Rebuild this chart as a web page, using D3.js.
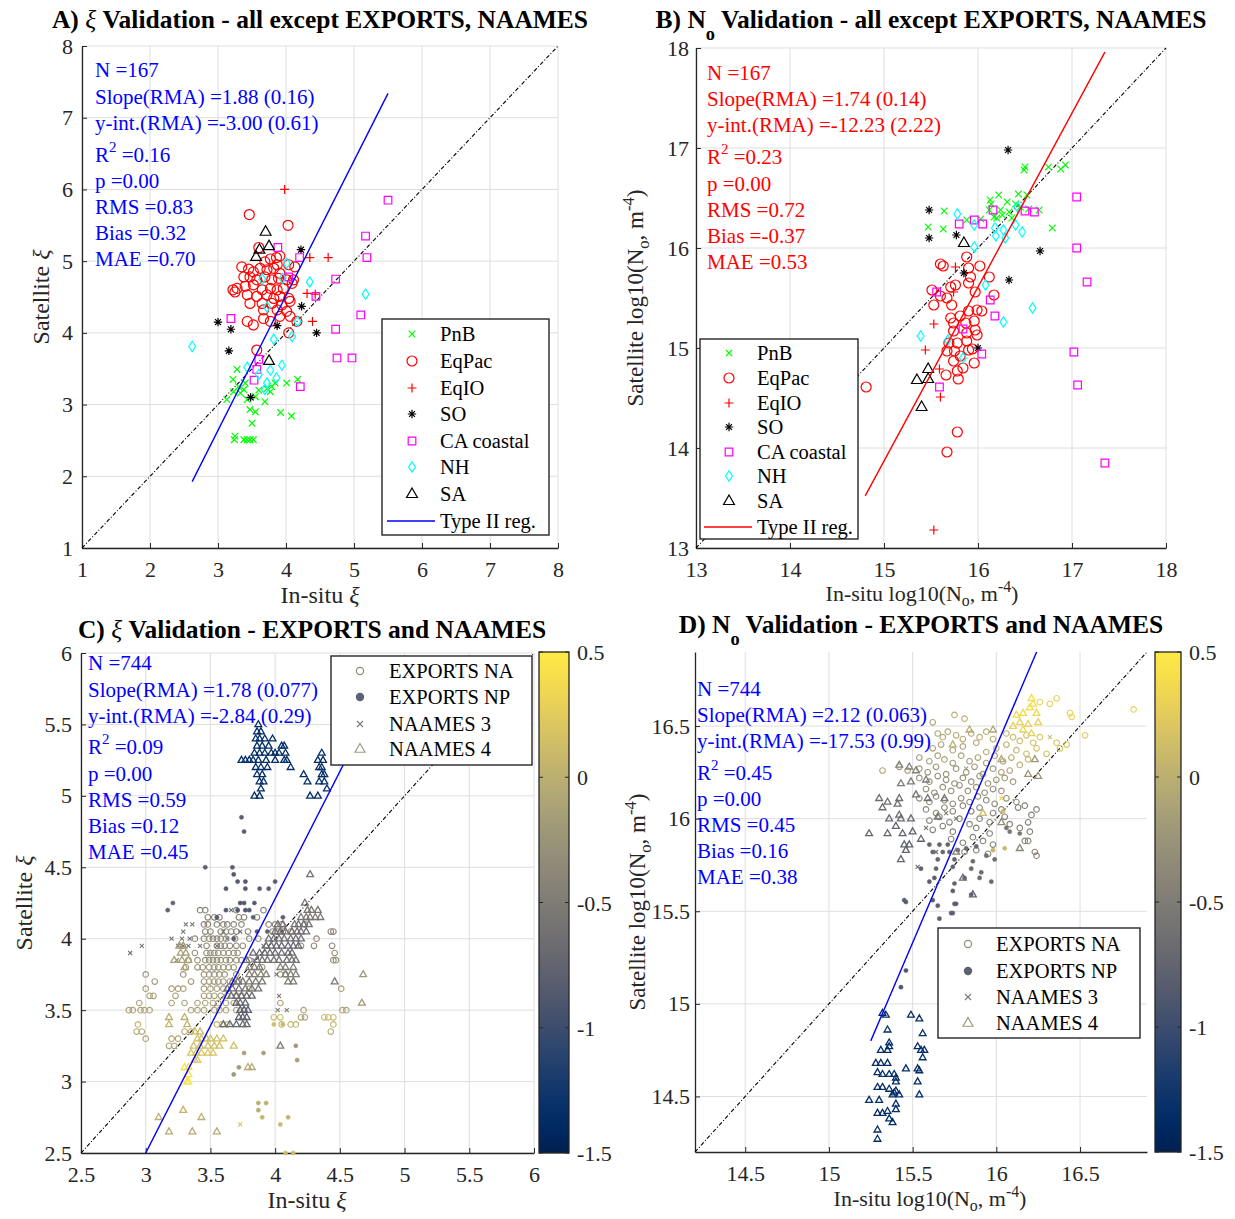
<!DOCTYPE html>
<html lang="en">
<head>
<meta charset="UTF-8">
<title>Validation</title>
<script src="https://cdn.jsdelivr.net/npm/d3@7"></script>
<style>
  body { margin: 0; background: #fff; }
  svg { font-family: "Liberation Serif", "DejaVu Serif", serif; }
  .tick-label { font-size: 22px; }
  .stat { font-size: 21px; }
  .legend-text { font-size: 20.5px; fill: #000; }
</style>
</head>
<body>
<svg width="1235" height="1219"></svg>
<script>
// ---------- panel A: xi, all except EXPORTS / NAAMES ----------
var aPnB = [[3.28,3.49],[3.22,3.35],[3.40,3.30],[3.23,3.18],[3.33,3.16],[3.13,3.07],[3.43,3.07],[3.55,3.11],[3.77,3.18],[3.84,3.30],[4.01,3.30],[4.17,3.35],[3.47,2.93],[3.55,2.90],[3.50,2.74],[3.92,2.89],[4.08,2.84],[3.25,2.56],[3.24,2.51],[3.38,2.51],[3.43,2.51],[3.47,2.51],[3.52,2.51],[3.79,3.25],[3.38,3.21],[3.69,3.04],[3.30,3.25],[3.60,3.20],[3.72,3.22]];
var aEqPac = [[3.46,5.65],[4.03,5.50],[3.60,5.19],[3.86,5.05],[3.91,5.07],[3.77,5.03],[4.04,4.95],[4.13,4.92],[3.35,4.92],[3.45,4.89],[3.52,4.85],[3.62,4.90],[3.72,4.88],[3.82,4.90],[3.91,4.83],[3.38,4.78],[3.47,4.78],[3.57,4.74],[3.69,4.78],[3.79,4.74],[3.89,4.76],[4.01,4.74],[4.09,4.69],[3.28,4.62],[3.40,4.65],[3.52,4.67],[3.65,4.60],[3.77,4.62],[3.87,4.60],[3.96,4.62],[3.43,4.53],[3.57,4.51],[3.72,4.53],[3.82,4.48],[3.91,4.51],[4.04,4.48],[3.47,4.41],[3.65,4.41],[3.79,4.41],[3.94,4.39],[4.06,4.44],[3.67,4.32],[3.87,4.32],[4.01,4.30],[3.43,4.16],[3.52,4.11],[3.67,4.20],[3.77,4.16],[3.91,4.23],[4.06,4.23],[4.16,4.16],[4.04,4.00],[3.57,3.76],[4.11,4.74],[3.87,4.95],[3.69,4.99],[3.22,4.60],[3.25,4.57]];
var aEqIO = [[3.98,6.00],[4.35,5.05],[4.62,5.05],[4.31,4.55],[4.43,4.54],[4.39,4.16]];
var aSO = [[4.22,5.16],[4.23,4.37],[3.00,4.15],[3.19,4.05],[3.16,3.75],[3.87,4.10],[4.45,4.00],[3.48,3.10]];
var aCA = [[3.88,5.19],[4.20,5.05],[5.17,5.35],[5.19,5.05],[4.04,4.78],[4.44,4.51],[4.73,4.75],[5.10,4.25],[3.19,4.20],[4.73,4.05],[4.75,3.65],[4.97,3.65],[3.57,3.49],[3.53,3.34],[4.21,3.25],[5.50,5.85],[3.60,3.63]];
var aNH = [[2.62,3.81],[4.01,4.97],[3.65,4.75],[3.95,4.76],[4.35,4.71],[5.17,4.54],[3.72,4.36],[4.17,4.16],[4.09,3.95],[3.82,3.91],[3.94,3.55],[3.43,3.52],[3.77,3.48],[3.60,3.42],[3.69,3.21],[3.86,3.37],[3.72,3.30]];
var aSA = [[3.70,5.41],[3.75,5.21],[3.61,5.16],[3.56,5.06],[3.75,3.61]];
var fitA = [1.88, -3.00, 2.62, 5.50];
var statsA = ["N =167", "Slope(RMA) =1.88 (0.16)", "y-int.(RMA) =-3.00 (0.61)", "R2 =0.16", "p =0.00", "RMS =0.83", "Bias =0.32", "MAE =0.70"];

// ---------- panel B: log10 No, all except EXPORTS / NAAMES ----------
var bPnB = [[16.50,16.81],[16.49,16.78],[16.75,16.81],[16.88,16.79],[16.93,16.83],[15.64,16.37],[15.47,16.21],[15.63,16.19],[16.79,16.20],[16.13,16.48],[16.22,16.53],[16.31,16.46],[16.43,16.54],[16.52,16.53],[16.12,16.38],[16.24,16.38],[16.33,16.36],[16.45,16.41],[16.54,16.39],[16.65,16.38],[16.17,16.31],[16.26,16.33],[15.88,16.28],[16.03,16.29],[16.40,16.44],[16.14,16.44],[16.20,16.30],[16.36,16.30]];
var bEqPac = [[15.60,15.84],[15.63,15.82],[15.88,15.91],[16.02,15.82],[16.12,15.71],[15.90,15.80],[15.92,15.71],[15.90,15.65],[15.76,15.63],[15.71,15.61],[15.51,15.58],[16.17,15.53],[15.97,15.56],[15.60,15.52],[15.67,15.50],[15.53,15.43],[15.72,15.43],[15.81,15.32],[15.90,15.37],[15.99,15.38],[16.04,15.37],[15.71,15.30],[15.74,15.25],[15.87,15.25],[15.96,15.27],[15.97,15.18],[15.74,15.17],[15.88,15.15],[15.99,15.13],[15.69,15.05],[15.78,15.05],[15.88,15.07],[15.67,14.97],[15.75,14.97],[15.81,14.92],[15.90,14.98],[15.96,14.85],[15.74,14.87],[15.84,14.80],[15.78,14.77],[15.66,14.73],[15.79,14.69],[15.94,14.99],[14.81,14.61],[15.78,14.16],[15.67,13.96]];
var bEqIO = [[15.76,15.81],[15.74,15.56],[15.53,15.24],[15.44,14.98],[15.59,14.79],[15.60,14.51],[15.53,13.18]];
var bSO = [[16.32,16.98],[15.48,16.38],[15.48,16.10],[15.77,16.13],[15.85,15.75],[16.66,15.97],[16.33,15.68],[16.00,15.00]];
var bCA = [[16.16,16.38],[15.80,16.24],[15.96,16.28],[16.05,16.24],[16.50,16.37],[16.60,16.36],[17.05,16.51],[17.05,16.00],[15.56,15.56],[16.13,15.48],[16.18,15.32],[15.84,15.19],[16.04,14.94],[17.02,14.96],[17.06,14.63],[15.59,14.61],[17.35,13.85],[17.16,15.66]];
var bNH = [[15.78,16.34],[15.96,16.23],[16.18,16.20],[16.27,16.18],[16.40,16.23],[16.47,16.16],[16.19,16.12],[16.29,16.10],[15.96,16.01],[16.08,15.63],[16.58,15.40],[16.27,15.26],[15.39,15.12],[15.68,15.08],[15.84,14.90],[16.42,16.41]];
var bSA = [[15.85,16.05],[15.47,14.79],[15.35,14.68],[15.47,14.69],[15.40,14.41]];
var fitB = [1.74, -12.23, 14.80, 17.35];
var statsB = ["N =167", "Slope(RMA) =1.74 (0.14)", "y-int.(RMA) =-12.23 (2.22)", "R2 =0.23", "p =0.00", "RMS =0.72", "Bias =-0.37", "MAE =0.53"];

// ---------- panel C: xi, EXPORTS and NAAMES (rows: [y, colour value, x list]) ----------
var cNA = [
  [4.20,-0.45,[3.42,3.46,3.70,3.91]],
  [4.15,-0.45,[3.48,3.53,3.57,3.72,3.76,3.86]],
  [4.10,-0.40,[3.45,3.48,3.55,3.60,3.63,3.68,3.74,3.95,4.00,4.05,4.23]],
  [4.05,-0.40,[3.46,3.50,3.58,3.62,3.66,3.70,3.79,3.98,4.02,4.06,4.12,4.43,4.45]],
  [4.00,-0.35,[3.38,3.45,3.49,3.52,3.55,3.58,3.62,3.69,3.80,3.87,4.32]],
  [3.95,-0.35,[3.47,3.55,3.58,3.61,3.65,3.70,3.75,4.20,4.30,4.44]],
  [3.90,-0.30,[3.38,3.47,3.50,3.53,3.56,3.60,3.64,3.68,3.71,4.46]],
  [3.85,-0.30,[3.33,3.40,3.46,3.49,3.52,3.55,3.58,3.62,3.65,3.70,3.74,3.80,4.45,4.47]],
  [3.80,-0.25,[3.31,3.40,3.44,3.49,3.53,3.56,3.60,3.64,3.68,3.90]],
  [3.75,-0.25,[3.00,3.29,3.45,3.49,3.53,3.57,3.61,3.70,4.04,4.08]],
  [3.70,-0.20,[3.07,3.35,3.45,3.49,3.53,3.56,3.60,3.65,3.72]],
  [3.65,-0.15,[3.00,3.20,3.25,3.29,3.45,3.50,3.55,3.60,3.80,4.51]],
  [3.60,-0.15,[3.03,3.06,3.23,3.45,3.49,3.53,3.58,3.63,3.70,3.74]],
  [3.55,-0.10,[2.95,3.20,3.30,3.40,3.46,3.52,3.56,3.62,3.68,4.04]],
  [3.50,-0.10,[2.87,2.90,2.96,2.99,3.03,3.35,3.40,3.45,3.53,3.57,3.62,3.70,3.76,4.22,4.52,4.55]],
  [3.45,0.10,[3.99,4.04,4.38,4.41,4.45]],
  [3.45,-0.10,[4.20,4.23]],
  [3.40,0.05,[2.94,3.55,3.59,3.63,4.05,4.12,4.16,4.45]],
  [3.35,-0.05,[2.93,2.97,3.30,3.35,4.43]],
  [3.30,-0.10,[3.00,3.20,3.25]],
  [3.25,-0.10,[3.18,3.22]]
];
var cNP = [[3.74,4.85,-0.8],[3.76,4.75,-0.8],[3.46,4.50,-0.8],[3.67,4.50,-0.8],[3.68,4.45,-0.85],[3.71,4.40,-0.85],[3.77,4.40,-0.85],[4.00,4.40,-0.8],[3.62,4.35,-0.85],[3.77,4.35,-0.85],[3.88,4.35,-0.8],[3.95,4.35,-0.8],[3.21,4.25,-0.75],[3.17,4.20,-0.75],[3.73,4.25,-0.9],[3.76,4.25,-0.9],[3.84,4.25,-0.85],[3.62,4.20,-0.85],[3.71,4.20,-0.85],[3.77,4.20,-0.85],[3.80,4.20,-0.85],[3.55,4.15,-0.85],[3.83,4.15,-0.8],[4.06,4.15,-0.8],[3.68,4.00,-0.8],[3.86,4.05,-0.8],[3.94,4.05,-0.75],
  [3.76,3.20,-0.15],[3.91,3.20,-0.15],[3.72,3.10,-0.2],[4.16,3.25,-0.2],[4.17,3.15,-0.15],[3.68,3.05,-0.2],[3.87,2.85,0.0],[3.93,2.85,0.0],[3.87,2.80,0.0],[3.90,2.75,0.05],[4.10,2.75,0.05],[4.04,2.70,0.1],[4.08,2.50,0.1],[4.14,2.50,0.1],[4.06,3.40,0.1],[3.99,3.40,0.15]];
var cN3 = [[2.88,3.90,-0.55],[2.97,3.95,-0.55],[3.20,4.00,-0.6],[3.28,4.00,-0.6],[3.34,4.00,-0.6],[3.25,3.95,-0.6],[3.29,3.95,-0.6],[3.33,3.95,-0.6],[3.42,3.95,-0.6],[3.31,4.10,-0.6],[3.36,4.10,-0.6],[3.29,4.05,-0.6],[3.24,3.85,-0.5],[3.66,4.20,-0.7],[3.63,4.00,-0.6],[3.73,4.05,-0.65],[3.84,3.85,-0.6],[3.91,3.95,-0.6],[4.01,3.75,-0.55],[4.03,3.60,-0.55],[4.02,3.50,-0.5],[4.09,3.50,-0.5],[3.73,2.70,0.2],[3.55,3.95,-0.6],[3.60,4.05,-0.6]];
var cN4 = [
  [5.50,-1.35,[3.87]],
  [5.45,-1.35,[3.86,3.89]],
  [5.40,-1.35,[3.85,3.88,3.92,3.98]],
  [5.35,-1.35,[3.86,3.90,3.95,4.05,4.07]],
  [5.30,-1.35,[3.84,3.88,3.92,3.97,4.00,4.03,4.08,4.36]],
  [5.25,-1.35,[3.74,3.77,3.80,3.83,3.87,3.93,4.00,4.07,4.09,4.33,4.37]],
  [5.20,-1.35,[3.85,3.89,3.94,4.12,4.34,4.36]],
  [5.15,-1.35,[3.86,3.90,4.22,4.36,4.38]],
  [5.10,-1.35,[3.88,3.91,4.25,4.34,4.38]],
  [5.05,-1.35,[3.89,4.40]],
  [5.00,-1.35,[3.84,3.88,4.27,4.33]],
  [4.45,-0.60,[4.27]],
  [4.25,-0.60,[4.23]],
  [4.20,-0.55,[4.25,4.28,4.33]],
  [4.15,-0.55,[4.20,4.24,4.27,4.31,4.35]],
  [4.10,-0.60,[4.02,4.06,4.15,4.18,4.22,4.26]],
  [4.05,-0.65,[4.00,4.04,4.08,4.13,4.17,4.20,4.24]],
  [4.00,-0.65,[3.95,3.99,4.03,4.07,4.12,4.16,4.20]],
  [3.95,-0.70,[3.93,3.97,4.01,4.05,4.10,4.14,4.18]],
  [3.95,-0.20,[3.26,3.29]],
  [3.90,-0.70,[3.83,3.88,3.92,3.96,4.00,4.05,4.10,4.13]],
  [3.90,-0.15,[3.27,3.31]],
  [3.85,-0.60,[3.78,3.86,3.90,3.94,3.99,4.03,4.09,4.13,4.16]],
  [3.85,-0.10,[3.22,3.28,3.33]],
  [3.80,-0.50,[3.80,3.84,3.88,4.04,4.08,4.14]],
  [3.80,-0.10,[3.30]],
  [3.75,-0.45,[3.80,3.84,3.89,3.93,4.08,4.12,4.16]],
  [3.75,-0.20,[4.68]],
  [3.70,-0.55,[3.67,3.71,3.75,3.80,3.85,3.90,4.10,4.14,4.46]],
  [3.65,-0.60,[3.63,3.67,3.72,3.77,3.82,3.87]],
  [3.60,-0.70,[3.66,3.70,3.74,3.78,3.82]],
  [3.55,-0.75,[3.70,3.73,3.77]],
  [3.55,-0.20,[4.67]],
  [3.50,-0.80,[3.73,3.76,3.79]],
  [3.45,-0.80,[3.72,3.75,3.78]],
  [3.45,0.00,[3.18,3.30]],
  [3.40,-0.70,[3.60,3.65,3.70,3.75,3.78]],
  [3.40,0.05,[3.18,3.32]],
  [3.35,0.10,[3.38,3.42]],
  [3.30,0.15,[3.40,3.43,3.47,3.50,3.55,3.60]],
  [3.25,0.15,[3.37,3.42,3.48,3.53,3.57,3.68]],
  [3.25,-0.50,[4.04]],
  [3.20,0.20,[3.35,3.39,3.43,3.48,3.52]],
  [3.15,0.25,[3.38,3.40]],
  [3.10,0.40,[3.30,3.33]],
  [3.10,-0.05,[3.79,3.82]],
  [3.05,0.45,[3.33]],
  [3.00,0.45,[3.32,3.33]],
  [2.80,0.05,[3.29]],
  [2.75,0.00,[3.10,3.43]],
  [2.65,-0.05,[3.18,3.36,3.55]]
];
var fitC = [1.78, -2.84, 2.87, 4.70];
var statsC = ["N =744", "Slope(RMA) =1.78 (0.077)", "y-int.(RMA) =-2.84 (0.29)", "R2 =0.09", "p =0.00", "RMS =0.59", "Bias =0.12", "MAE =0.45"];

// ---------- panel D: log10 No, EXPORTS and NAAMES ([x, y, colour value]) ----------
var dNA = [[16.82,16.59,0.3],[16.45,16.55,0.3],[16.44,16.57,0.3],[16.36,16.65,0.3],[16.32,16.62,0.28],[16.26,16.63,0.3],[16.53,16.45,0.25],[16.36,16.41,0.2],[16.38,16.38,0.2],[16.30,16.35,0.15],[16.42,16.40,0.2],[15.75,16.56,0.0],[15.81,16.54,0.0],[15.62,16.52,-0.1],
  [15.65,16.46,-0.05],[15.68,16.44,-0.05],[15.71,16.47,-0.05],[15.76,16.45,-0.05],[15.80,16.43,-0.05],[15.85,16.46,-0.05],[15.90,16.44,0.0],[15.94,16.47,0.0],[15.98,16.43,0.0],[16.06,16.46,0.05],[16.10,16.44,0.1],[16.14,16.42,0.1],[16.18,16.45,0.15],[16.22,16.41,0.15],[16.26,16.44,0.2],
  [15.62,16.38,-0.1],[15.67,16.40,-0.1],[15.74,16.37,-0.1],[15.80,16.39,-0.1],[15.88,16.41,-0.05],[15.94,16.36,-0.05],[16.00,16.38,0.0],[16.06,16.40,0.0],[16.12,16.37,0.05],[16.18,16.35,0.1],[16.24,16.38,0.15],
  [15.54,16.33,-0.15],[15.60,16.31,-0.15],[15.65,16.34,-0.15],[15.69,16.32,-0.15],[15.74,16.30,-0.2],[15.79,16.34,-0.15],[15.84,16.31,-0.2],[15.89,16.33,-0.15],[15.94,16.30,-0.15],[15.99,16.34,-0.1],[16.04,16.31,-0.1],[16.09,16.33,-0.05],[16.14,16.29,0.0],[16.19,16.32,0.05],
  [15.32,16.26,-0.1],[15.42,16.28,-0.2],[15.47,16.26,-0.2],[15.54,16.27,-0.2],[15.59,16.25,-0.25],[15.64,16.28,-0.25],[15.70,16.24,-0.25],[15.76,16.27,-0.25],[15.82,16.25,-0.25],[15.87,16.28,-0.2],[15.92,16.24,-0.2],[15.98,16.27,-0.2],[16.03,16.25,-0.15],[16.08,16.26,-0.1],
  [15.54,16.22,-0.3],[15.60,16.20,-0.3],[15.65,16.23,-0.3],[15.70,16.21,-0.3],[15.75,16.19,-0.3],[15.80,16.22,-0.3],[15.85,16.20,-0.3],[15.90,16.23,-0.25],[15.95,16.19,-0.25],[16.00,16.21,-0.25],[16.05,16.22,-0.2],[16.10,16.20,-0.2],
  [15.58,16.16,-0.3],[15.63,16.14,-0.3],[15.68,16.17,-0.3],[15.73,16.15,-0.3],[15.78,16.18,-0.3],[15.83,16.15,-0.3],[15.88,16.17,-0.3],[15.93,16.14,-0.3],[15.98,16.16,-0.3],[16.03,16.15,-0.25],
  [15.54,16.11,-0.35],[15.60,16.09,-0.35],[15.64,16.12,-0.35],[15.69,16.10,-0.35],[15.74,16.08,-0.35],[15.79,16.11,-0.35],[15.84,16.09,-0.35],[15.89,16.12,-0.35],[15.94,16.10,-0.35],[15.99,16.08,-0.35],[16.06,16.11,-0.3],[16.12,16.09,-0.3],
  [15.58,16.05,-0.4],[15.64,16.03,-0.4],[15.69,16.06,-0.4],[15.74,16.04,-0.4],[15.80,16.07,-0.4],[15.85,16.04,-0.4],[15.90,16.06,-0.4],[15.98,16.03,-0.4],[16.03,16.05,-0.4],[16.13,16.06,-0.45],[16.17,16.07,-0.45],[16.24,16.05,-0.45],[16.21,16.02,-0.45],
  [15.60,15.99,-0.45],[15.66,16.01,-0.45],[15.72,15.98,-0.45],[15.78,16.00,-0.45],[15.84,15.97,-0.45],[15.90,16.00,-0.45],[15.96,15.98,-0.45],[16.05,16.01,-0.45],[16.08,15.97,-0.45],[16.19,15.98,-0.45],
  [15.62,15.94,-0.45],[15.68,15.96,-0.45],[15.74,15.93,-0.45],[15.88,15.95,-0.45],[15.96,15.92,-0.45],[16.14,15.95,-0.45],[16.20,15.93,-0.45],
  [15.73,15.89,-0.45],[15.80,15.87,-0.45],[15.86,15.90,-0.45],[15.92,15.88,-0.45],[15.98,15.86,-0.45],[16.17,15.88,-0.4],[16.19,15.88,-0.4],
  [15.81,15.82,-0.45],[15.88,15.83,-0.45],[15.95,15.81,-0.45],[16.23,15.82,-0.4],[16.24,15.80,-0.4]];
var dNP = [[15.60,15.86,-0.75],[15.66,15.86,-0.75],[15.71,15.86,-0.75],[15.62,15.82,-0.75],[15.68,15.82,-0.75],[15.72,15.82,-0.75],[15.77,15.83,-0.7],[15.65,15.78,-0.75],[15.75,15.78,-0.75],[15.82,15.84,-0.7],[15.88,15.85,-0.7],[15.94,15.80,-0.65],[15.99,15.78,-0.65],[15.86,15.77,-0.7],[15.55,15.73,-0.8],[15.64,15.73,-0.75],[15.74,15.74,-0.75],[15.85,15.73,-0.7],[15.91,15.71,-0.7],[15.60,15.66,-0.8],[15.63,15.68,-0.8],[15.75,15.65,-0.75],[15.81,15.68,-0.75],[15.90,15.68,-0.7],[15.97,15.66,-0.7],[15.74,15.61,-0.8],[15.85,15.59,-0.75],[15.45,15.56,-0.8],[15.62,15.56,-0.8],[15.65,15.53,-0.8],[15.75,15.54,-0.8],[15.73,15.49,-0.8],[15.66,15.46,-0.8],[16.06,15.95,-0.55],[16.08,15.93,-0.55],[16.14,15.92,-0.55],[15.46,15.55,-0.85],[15.74,15.49,-0.8],[15.76,15.54,-0.8],[15.46,15.18,-0.9],[15.43,15.09,-0.9],[16.04,16.04,0.1],[16.05,15.84,0.1],[15.98,15.83,0.05]];
var dN3 = [[15.53,15.74,-0.7],[15.76,16.00,-0.55],[15.64,15.82,-0.65],[16.03,16.11,0.3],[16.32,16.44,0.1],[15.82,16.27,-0.2],[15.70,16.03,-0.5],[15.58,15.95,-0.6]];
var dN4 = [[15.32,14.95,-1.35],[15.34,14.94,-1.35],[15.49,14.94,-1.35],[15.54,14.92,-1.35],[15.35,14.86,-1.35],[15.56,14.84,-1.35],[15.36,14.79,-1.35],[15.31,14.75,-1.35],[15.35,14.75,-1.35],[15.36,14.77,-1.35],[15.53,14.77,-1.35],[15.55,14.75,-1.35],[15.57,14.75,-1.35],[15.56,14.71,-1.35],[15.28,14.68,-1.35],[15.31,14.68,-1.35],[15.35,14.68,-1.35],[15.46,14.65,-1.35],[15.53,14.65,-1.35],[15.54,14.64,-1.35],[15.29,14.63,-1.35],[15.32,14.62,-1.35],[15.36,14.62,-1.35],[15.39,14.62,-1.35],[15.40,14.60,-1.35],[15.40,14.58,-1.35],[15.53,14.58,-1.35],[15.29,14.55,-1.35],[15.32,14.55,-1.35],[15.36,14.54,-1.35],[15.39,14.52,-1.35],[15.42,14.51,-1.35],[15.54,14.51,-1.35],[15.24,14.48,-1.35],[15.30,14.48,-1.35],[15.40,14.46,-1.35],[15.29,14.41,-1.35],[15.32,14.41,-1.35],[15.35,14.42,-1.35],[15.40,14.43,-1.35],[15.36,14.38,-1.35],[15.38,14.36,-1.35],[15.29,14.32,-1.35],[15.29,14.27,-1.35],[15.38,14.51,-1.35],[15.40,14.53,-1.35],
  [16.21,16.65,0.4],[16.22,16.62,0.4],[16.20,16.60,0.4],[16.12,16.56,0.35],[16.16,16.57,0.35],[16.24,16.57,0.35],[16.14,16.52,0.3],[16.19,16.51,0.3],[16.25,16.52,0.3],[16.16,16.48,0.3],[16.21,16.46,0.3],[16.10,16.50,0.3],
  [15.84,16.48,-0.05],[15.74,16.40,0.0],[15.98,16.48,-0.1],[16.03,16.32,-0.05],[16.23,16.32,-0.2],[16.25,16.23,-0.25],[16.19,16.24,-0.25],[15.92,16.03,0.1],
  [15.42,16.29,-0.45],[15.48,16.28,-0.45],[15.52,16.26,-0.45],[15.43,16.19,-0.5],[15.49,16.20,-0.5],[15.58,16.21,-0.5],[15.30,16.11,-0.65],[15.35,16.09,-0.65],[15.32,16.06,-0.65],[15.42,16.11,-0.65],[15.41,16.08,-0.65],[15.52,16.13,-0.6],[15.59,16.11,-0.6],[15.36,16.00,-0.7],[15.42,16.02,-0.7],[15.43,16.00,-0.7],[15.49,16.00,-0.7],[15.24,15.92,-0.75],[15.35,15.92,-0.75],[15.40,15.96,-0.75],[15.44,15.92,-0.75],[15.50,15.93,-0.75],[15.55,15.89,-0.75],[15.45,15.86,-0.75],[15.48,15.86,-0.75],[15.46,15.83,-0.75],[15.43,15.78,-0.75],[15.65,16.01,-0.55],[15.69,16.11,-0.55],[15.76,15.82,-0.5],[15.80,15.68,-0.7],[15.86,15.59,-0.75],[16.14,15.84,-0.4],[16.03,15.98,-0.3]];
var fitD = [2.12, -17.53, 15.25, 16.90];
var statsD = ["N =744", "Slope(RMA) =2.12 (0.063)", "y-int.(RMA) =-17.53 (0.99)", "R2 =0.45", "p =0.00", "RMS =0.45", "Bias =0.16", "MAE =0.38"];

var cbTicks = [0.5, 0, -0.5, -1, -1.5];

// ---------- helpers ----------
var svg = d3.select("svg");
var ink = "#262626";
var colorScale = d3.scaleSequential(d3.interpolateCividis).domain([-1.5, 0.5]);

function rows(r) {
  return r.flatMap(function (d) { return d[2].map(function (xv) { return [xv, d[0], d[1]]; }); });
}

function markerPath(type, r) {
  switch (type) {
    case "o": case ".":
      return "M" + r + ",0A" + r + "," + r + " 0 1,1 " + (-r) + ",0A" + r + "," + r + " 0 1,1 " + r + ",0Z";
    case "s": return "M" + (-r) + "," + (-r) + "H" + r + "V" + r + "H" + (-r) + "Z";
    case "d": return "M0," + (-r * 1.35) + "L" + (r * 0.9) + ",0L0," + (r * 1.35) + "L" + (-r * 0.9) + ",0Z";
    case "^": return "M0," + (-r * 1.1) + "L" + r + "," + (r * 0.65) + "L" + (-r) + "," + (r * 0.65) + "Z";
    case "+": return "M" + (-r) + ",0H" + r + "M0," + (-r) + "V" + r;
    case "x": return "M" + (-r) + "," + (-r) + "L" + r + "," + r + "M" + (-r) + "," + r + "L" + r + "," + (-r);
    case "*":
      var k = r * 0.7;
      return "M" + (-r) + ",0H" + r + "M0," + (-r) + "V" + r +
        "M" + (-k) + "," + (-k) + "L" + k + "," + k + "M" + (-k) + "," + k + "L" + k + "," + (-k);
  }
}

function rich(x, y, parts, size, opt) {
  opt = opt || {};
  var t = svg.append("text")
    .attr("text-anchor", "middle")
    .attr("font-size", size)
    .attr("fill", opt.fill || "#000")
    .attr("transform", "translate(" + x + "," + y + ")" + (opt.rot ? " rotate(-90)" : ""));
  if (opt.bold) t.attr("font-weight", "bold");
  var shift = 0;
  parts.forEach(function (p) {
    var s = t.append("tspan").text(p[0]);
    var target = p[1] === "sub" ? (opt.subDy || 6) : p[1] === "sup" ? -9 : 0;
    if (target !== shift) s.attr("dy", target - shift);
    shift = target;
    if (p[1] === "sub" || p[1] === "sup") s.attr("font-size", size * 0.72);
    if (p[1] === "i") s.attr("font-style", "italic").attr("font-weight", "normal");
  });
}

function panel(o) {
  var x = d3.scaleLinear().domain(o.dom).range(o.xr);
  var y = d3.scaleLinear().domain(o.dom).range(o.yr);
  var g = svg.append("g");
  var clipId = "clip" + o.key;
  svg.append("clipPath").attr("id", clipId).append("rect")
    .attr("x", o.xr[0]).attr("y", o.yr[1])
    .attr("width", o.xr[1] - o.xr[0]).attr("height", o.yr[0] - o.yr[1]);

  // grid
  g.selectAll(".gx").data(o.ticks).enter().append("line")
    .attr("x1", x).attr("x2", x).attr("y1", o.yr[0]).attr("y2", o.yr[1])
    .attr("stroke", "#dedede").attr("stroke-width", 1);
  g.selectAll(".gy").data(o.ticks).enter().append("line")
    .attr("y1", y).attr("y2", y).attr("x1", o.xr[0]).attr("x2", o.xr[1])
    .attr("stroke", "#dedede").attr("stroke-width", 1);

  // axes (ticks inside, MATLAB style)
  var fmt = function (d) { return String(d); };
  g.append("g").attr("transform", "translate(0," + o.yr[0] + ")")
    .call(d3.axisBottom(x).tickValues(o.ticks).tickSizeInner(-5).tickSizeOuter(0).tickPadding(13).tickFormat(fmt))
    .attr("font-family", null).attr("font-size", null).attr("color", ink)
    .selectAll("text").attr("class", "tick-label");
  g.append("g").attr("transform", "translate(" + o.xr[0] + ",0)")
    .call(d3.axisLeft(y).tickValues(o.ticks).tickSizeInner(-5).tickSizeOuter(0).tickPadding(o.ypad).tickFormat(fmt))
    .attr("font-family", null).attr("font-size", null).attr("color", ink)
    .selectAll("text").attr("class", "tick-label");
  g.selectAll(".domain").attr("stroke-width", 1.3);

  // 1:1 line
  g.append("line")
    .attr("x1", x(o.dom[0])).attr("y1", y(o.dom[0]))
    .attr("x2", x(o.dom[1])).attr("y2", y(o.dom[1]))
    .attr("stroke", "#000").attr("stroke-width", 1.1)
    .attr("stroke-dasharray", "4,2,1,2");

  // points
  o.series.forEach(function (s) {
    g.append("g").selectAll("path").data(s.data).enter().append("path")
      .attr("transform", function (d) { return "translate(" + x(d[0]) + "," + y(d[1]) + ")"; })
      .attr("d", markerPath(s.type, s.r))
      .attr("fill", function (d) {
        if (!s.filled) return "none";
        return s.color ? s.color : colorScale(d[2]);
      })
      .attr("stroke", function (d) { return s.color ? s.color : colorScale(d[2]); })
      .attr("stroke-width", s.sw || 1.2);
  });

  // type II regression
  var f = o.fit;
  g.append("line")
    .attr("clip-path", "url(#" + clipId + ")")
    .attr("x1", x(f[2])).attr("y1", y(f[0] * f[2] + f[1]))
    .attr("x2", x(f[3])).attr("y2", y(f[0] * f[3] + f[1]))
    .attr("stroke", o.fitColor).attr("stroke-width", 1.4);

  // stats text
  o.stats.forEach(function (s, i) {
    var t = g.append("text").attr("class", "stat")
      .attr("x", o.statX).attr("y", o.statY[i] + 7).attr("fill", o.fitColor);
    if (s.indexOf("R2") === 0) {
      t.append("tspan").text("R");
      t.append("tspan").attr("dy", -10).attr("font-size", 15).text("2");
      t.append("tspan").attr("dy", 10).text(s.slice(2));
    } else {
      t.text(s);
    }
  });

  // legend
  var L = o.legend;
  g.append("rect").attr("x", L.box[0]).attr("y", L.box[1])
    .attr("width", L.box[2] - L.box[0]).attr("height", L.box[3] - L.box[1])
    .attr("fill", "#fff").attr("stroke", ink).attr("stroke-width", 1.4);
  L.items.forEach(function (it, i) {
    var yy = L.ys[i];
    if (it.type === "line") {
      g.append("line").attr("x1", L.lineX[0]).attr("x2", L.lineX[1])
        .attr("y1", yy).attr("y2", yy).attr("stroke", it.color).attr("stroke-width", 1.4);
    } else {
      g.append("path").attr("transform", "translate(" + L.markX + "," + yy + ")")
        .attr("d", markerPath(it.type, it.r))
        .attr("fill", it.filled ? it.color : "none")
        .attr("stroke", it.color).attr("stroke-width", 1.2);
    }
    g.append("text").attr("class", "legend-text").attr("x", L.textX).attr("y", yy + 7).text(it.label);
  });

  // colorbar
  if (o.cbar) {
    var cb = o.cbar;
    var cy = d3.scaleLinear().domain([-1.5, 0.5]).range([cb.y[1], cb.y[0]]);
    var gid = "grad" + o.key;
    var grad = svg.append("defs").append("linearGradient").attr("id", gid)
      .attr("x1", 0).attr("x2", 0).attr("y1", 1).attr("y2", 0);
    d3.range(0, 1.0001, 0.05).forEach(function (t) {
      grad.append("stop").attr("offset", t).attr("stop-color", d3.interpolateCividis(t));
    });
    g.append("rect").attr("x", cb.x[0]).attr("y", cb.y[0])
      .attr("width", cb.x[1] - cb.x[0]).attr("height", cb.y[1] - cb.y[0])
      .attr("fill", "url(#" + gid + ")").attr("stroke", ink).attr("stroke-width", 1.3);
    cbTicks.forEach(function (v) {
      g.append("line").attr("x1", cb.x[0]).attr("x2", cb.x[0] + 4).attr("y1", cy(v)).attr("y2", cy(v)).attr("stroke", ink);
      g.append("line").attr("x1", cb.x[1] - 4).attr("x2", cb.x[1]).attr("y1", cy(v)).attr("y2", cy(v)).attr("stroke", ink);
      g.append("text").attr("class", "tick-label").attr("fill", ink)
        .attr("x", cb.x[1] + 8).attr("y", cy(v) + 8).text(String(v));
    });
  }
}

// ---------- panel A ----------
panel({
  key: "A", dom: [1, 8], xr: [82, 558], yr: [548, 46], ticks: d3.range(1, 9), ypad: 9,
  series: [
    { data: aPnB, type: "x", r: 3.3, color: "#00ff00" },
    { data: aEqPac, type: "o", r: 5, color: "#ff0000" },
    { data: aEqIO, type: "+", r: 4.5, color: "#ff0000" },
    { data: aSO, type: "*", r: 4.2, color: "#000000" },
    { data: aCA, type: "s", r: 3.8, color: "#ff00ff" },
    { data: aNH, type: "d", r: 3.8, color: "#00ffff" },
    { data: aSA, type: "^", r: 5.4, color: "#000000" }
  ],
  fit: fitA, fitColor: "#0000ff",
  stats: statsA, statX: 95, statY: [70, 97, 123, 155, 181, 207, 233, 259],
  legend: {
    box: [382, 319, 549, 535], markX: 412, textX: 440, lineX: [387, 435],
    ys: [334, 361, 388, 414, 441, 467, 494, 521],
    items: [
      { label: "PnB", type: "x", r: 3.3, color: "#00ff00" },
      { label: "EqPac", type: "o", r: 5, color: "#ff0000" },
      { label: "EqIO", type: "+", r: 4.5, color: "#ff0000" },
      { label: "SO", type: "*", r: 4.2, color: "#000000" },
      { label: "CA coastal", type: "s", r: 3.8, color: "#ff00ff" },
      { label: "NH", type: "d", r: 3.8, color: "#00ffff" },
      { label: "SA", type: "^", r: 5.4, color: "#000000" },
      { label: "Type II reg.", type: "line", color: "#0000ff" }
    ]
  }
});
rich(320, 28, [["A) ", ""], ["ξ", "i"], [" Validation - all except EXPORTS, NAAMES", ""]], 25.5, { bold: true });
rich(320, 603, [["In-situ ", ""], ["ξ", "i"]], 24, { fill: ink });
rich(49, 297, [["Satellite ", ""], ["ξ", "i"]], 24, { fill: ink, rot: true });

// ---------- panel B ----------
panel({
  key: "B", dom: [13, 18], xr: [696, 1166], yr: [548, 48], ticks: d3.range(13, 19), ypad: 7,
  series: [
    { data: bPnB, type: "x", r: 3.3, color: "#00ff00" },
    { data: bEqPac, type: "o", r: 5, color: "#ff0000" },
    { data: bEqIO, type: "+", r: 4.5, color: "#ff0000" },
    { data: bSO, type: "*", r: 4.2, color: "#000000" },
    { data: bCA, type: "s", r: 3.8, color: "#ff00ff" },
    { data: bNH, type: "d", r: 3.8, color: "#00ffff" },
    { data: bSA, type: "^", r: 5.4, color: "#000000" }
  ],
  fit: fitB, fitColor: "#ff0000",
  stats: statsB, statX: 707, statY: [73, 99, 125, 157, 184, 210, 236, 262],
  legend: {
    box: [700, 339, 858, 539], markX: 729, textX: 757, lineX: [704, 752],
    ys: [353, 378, 403, 427, 452, 476, 501, 527],
    items: [
      { label: "PnB", type: "x", r: 3, color: "#00ff00" },
      { label: "EqPac", type: "o", r: 5, color: "#ff0000" },
      { label: "EqIO", type: "+", r: 4.5, color: "#ff0000" },
      { label: "SO", type: "*", r: 4.2, color: "#000000" },
      { label: "CA coastal", type: "s", r: 3.8, color: "#ff00ff" },
      { label: "NH", type: "d", r: 3.8, color: "#00ffff" },
      { label: "SA", type: "^", r: 5.4, color: "#000000" },
      { label: "Type II reg.", type: "line", color: "#ff0000" }
    ]
  }
});
rich(931, 28, [["B) N", ""], ["o", "sub"], [" Validation - all except EXPORTS, NAAMES", ""]], 25.5, { bold: true, subDy: 12 });
rich(922, 601, [["In-situ log10(N", ""], ["o", "sub"], [", m", ""], ["-4", "sup"], [")", ""]], 22, { fill: ink, subDy: 5 });
rich(643, 298, [["Satellite log10(N", ""], ["o", "sub"], [", m", ""], ["-4", "sup"], [")", ""]], 23, { fill: ink, rot: true });

// ---------- panel C ----------
panel({
  key: "C", dom: [2.5, 6], xr: [81, 534], yr: [1153, 653], ticks: d3.range(2.5, 6.01, 0.5), ypad: 9,
  series: [
    { data: rows(cNA), type: "o", r: 2.8, sw: 1.1 },
    { data: cNP, type: ".", r: 2.1, filled: true, sw: 0.5 },
    { data: cN3, type: "x", r: 2, sw: 1.1 },
    { data: rows(cN4), type: "^", r: 3.4, sw: 1.3 }
  ],
  fit: fitC, fitColor: "#0000ff",
  stats: statsC, statX: 88, statY: [663, 690, 716, 747, 774, 800, 826, 852],
  legend: {
    box: [331, 656, 532, 765], markX: 360, textX: 389,
    ys: [671, 697, 724, 749],
    items: [
      { label: "EXPORTS NA", type: "o", r: 3.6, color: "#8d8a7c" },
      { label: "EXPORTS NP", type: ".", r: 3.6, color: "#5d6273", filled: true },
      { label: "NAAMES 3", type: "x", r: 3, color: "#7d7d7d" },
      { label: "NAAMES 4", type: "^", r: 5, color: "#a29b80" }
    ]
  },
  cbar: { x: [539, 569], y: [652, 1153] }
});
rich(312, 638, [["C) ", ""], ["ξ", "i"], [" Validation - EXPORTS and NAAMES", ""]], 25.5, { bold: true });
rich(307, 1208, [["In-situ ", ""], ["ξ", "i"]], 24, { fill: ink });
rich(32, 903, [["Satellite ", ""], ["ξ", "i"]], 24, { fill: ink, rot: true });

// ---------- panel D ----------
panel({
  key: "D", dom: [14.2, 16.9], xr: [695, 1147], yr: [1152, 652], ticks: [14.5, 15, 15.5, 16, 16.5], ypad: 5,
  series: [
    { data: dNA, type: "o", r: 2.8, sw: 1.1 },
    { data: dNP, type: ".", r: 2.1, filled: true, sw: 0.5 },
    { data: dN3, type: "x", r: 2, sw: 1.1 },
    { data: dN4, type: "^", r: 3.4, sw: 1.3 }
  ],
  fit: fitD, fitColor: "#0000ff",
  stats: statsD, statX: 697, statY: [689, 715, 741, 773, 799, 825, 851, 877],
  legend: {
    box: [938, 928, 1140, 1038], markX: 968, textX: 996,
    ys: [944, 971, 997, 1023],
    items: [
      { label: "EXPORTS NA", type: "o", r: 3.6, color: "#8d8a7c" },
      { label: "EXPORTS NP", type: ".", r: 3.6, color: "#5d6273", filled: true },
      { label: "NAAMES 3", type: "x", r: 3, color: "#7d7d7d" },
      { label: "NAAMES 4", type: "^", r: 5, color: "#a29b80" }
    ]
  },
  cbar: { x: [1155, 1181], y: [652, 1152] }
});
rich(921, 633, [["D) N", ""], ["o", "sub"], [" Validation - EXPORTS and NAAMES", ""]], 25.5, { bold: true, subDy: 12 });
rich(930, 1206, [["In-situ log10(N", ""], ["o", "sub"], [", m", ""], ["-4", "sup"], [")", ""]], 22, { fill: ink, subDy: 5 });
rich(645, 902, [["Satellite log10(N", ""], ["o", "sub"], [", m", ""], ["-4", "sup"], [")", ""]], 23, { fill: ink, rot: true });
</script>
</body>
</html>
